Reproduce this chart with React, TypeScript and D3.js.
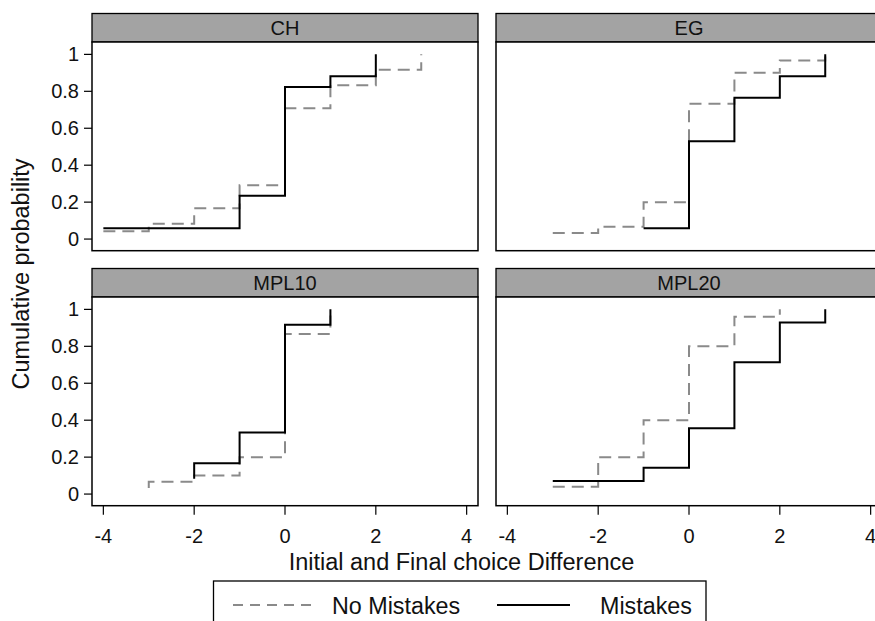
import React from "react";
import * as d3 from "d3";

const panelNames = ["CH", "EG", "MPL10", "MPL20"];
const xTicks = [-4, -2, 0, 2, 4];
const yTicks = [0, 0.2, 0.4, 0.6, 0.8, 1];
const yTickLabels = ["0", "0.2", "0.4", "0.6", "0.8", "1"];
const seriesNames = ["No Mistakes", "Mistakes"];

const chNoX = [-4, -3, -2, -1, 0, 1, 2, 3];
const chNoY = [0.042, 0.083, 0.167, 0.292, 0.708, 0.833, 0.917, 1];
const chMX = [-4, -1, 0, 1, 2];
const chMY = [0.059, 0.235, 0.824, 0.882, 1];

const egNoX = [-3, -2, -1, 0, 1, 2, 3];
const egNoY = [0.033, 0.067, 0.2, 0.733, 0.9, 0.967, 1];
const egMX = [-1, 0, 1, 2, 3];
const egMY = [0.059, 0.529, 0.765, 0.882, 1];

const m10NoX = [-3, -3, -2, -1, 0, 1];
const m10NoY = [0.033, 0.067, 0.1, 0.2, 0.867, 1];
const m10MX = [-2, -2, -1, 0, 1];
const m10MY = [0.083, 0.167, 0.333, 0.917, 1];

const m20NoX = [-3, -2, -1, 0, 1, 2];
const m20NoY = [0.04, 0.2, 0.4, 0.8, 0.96, 1];
const m20MX = [-3, -1, 0, 1, 2, 3];
const m20MY = [0.071, 0.143, 0.357, 0.714, 0.929, 1];

const panelData = [
  { no: [chNoX, chNoY], m: [chMX, chMY] },
  { no: [egNoX, egNoY], m: [egMX, egMY] },
  { no: [m10NoX, m10NoY], m: [m10MX, m10MY] },
  { no: [m20NoX, m20NoY], m: [m20MX, m20MY] },
];

const FONT = "'Liberation Sans', Arial, Helvetica, sans-serif";
const HEADER_FILL = "#a3a3a3";
const DASH_COLOR = "#8a8a8a";

const W = 875;
const H = 621;
const panelW = 386;
const colX = [92, 496];
const rowHeaderTop = [13.5, 268.5];
const headerH = 28.5;
const plotH = 208.7;

export default function App() {
  const x0 = d3.scaleLinear().domain([-4.25, 4.25]).range([0, panelW]);
  const y0 = d3.scaleLinear().domain([-0.063, 1.067]).range([plotH, 0]);
  const line = d3
    .line<[number, number]>()
    .x((d) => x0(d[0]))
    .y((d) => y0(d[1]))
    .curve(d3.curveStepAfter);

  const toPts = (xy: number[][]) => xy[0].map((x, i) => [x, xy[1][i]] as [number, number]);

  return (
    <svg
      width={W}
      height={H}
      style={{ position: "absolute", left: 0, top: 0, background: "#fff" }}
      fontFamily={FONT}
    >
      <rect x={0} y={0} width={W} height={H} fill="#fff" />
      {panelNames.map((name, i) => {
        const col = i % 2;
        const row = Math.floor(i / 2);
        const px = colX[col];
        const hy = rowHeaderTop[row];
        const py = hy + headerH;
        const d = panelData[i];
        return (
          <g key={name}>
            <rect x={px} y={hy} width={panelW} height={headerH} fill={HEADER_FILL} stroke="#000" strokeWidth={1.3} />
            <text x={px + panelW / 2} y={hy + 21.5} textAnchor="middle" fontSize={20} fill="#111">
              {name}
            </text>
            <g transform={`translate(${px},${py})`}>
              <rect x={0} y={0} width={panelW} height={plotH} fill="#fff" stroke="#000" strokeWidth={1.5} />
              <path d={line(toPts(d.no)) || ""} fill="none" stroke={DASH_COLOR} strokeWidth={2} strokeDasharray="12,7" />
              <path d={line(toPts(d.m)) || ""} fill="none" stroke="#000" strokeWidth={2} />
              {col === 0 &&
                yTicks.map((t, k) => (
                  <g key={t}>
                    <line x1={-8} x2={0} y1={y0(t)} y2={y0(t)} stroke="#000" strokeWidth={1.2} />
                    <text x={-13} y={y0(t) + 7} textAnchor="end" fontSize={20} fill="#111">
                      {yTickLabels[k]}
                    </text>
                  </g>
                ))}
              {row === 1 &&
                xTicks.map((t) => (
                  <g key={t}>
                    <line x1={x0(t)} x2={x0(t)} y1={plotH} y2={plotH + 9} stroke="#000" strokeWidth={1.2} />
                    <text x={x0(t)} y={plotH + 37.5} textAnchor="middle" fontSize={20} fill="#111">
                      {t}
                    </text>
                  </g>
                ))}
            </g>
          </g>
        );
      })}
      <text
        transform="translate(28.5,274) rotate(-90)"
        textAnchor="middle"
        fontSize={23.5}
        fill="#111"
      >
        Cumulative probability
      </text>
      <text x={461.5} y={570} textAnchor="middle" fontSize={23.5} fill="#111">
        Initial and Final choice Difference
      </text>
      <g>
        <rect x={213.5} y={581} width={492.5} height={60} fill="#fff" stroke="#000" strokeWidth={1.3} />
        <line x1={233} x2={316} y1={605} y2={605} stroke={DASH_COLOR} strokeWidth={2} strokeDasharray="10,7" />
        <text x={332} y={614.3} fontSize={23.3} fill="#111">
          {seriesNames[0]}
        </text>
        <line x1={497} x2={570} y1={605} y2={605} stroke="#000" strokeWidth={2} />
        <text x={600} y={614.3} fontSize={23.3} fill="#111">
          {seriesNames[1]}
        </text>
      </g>
    </svg>
  );
}
